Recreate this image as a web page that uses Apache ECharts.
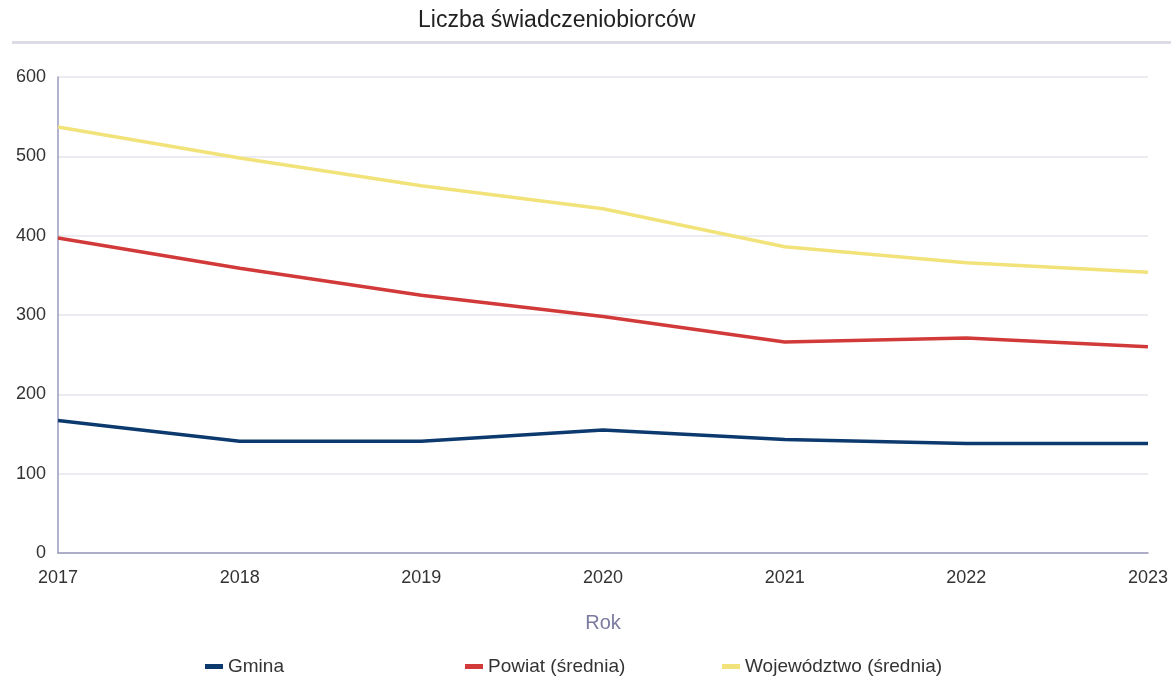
<!DOCTYPE html>
<html>
<head>
<meta charset="utf-8">
<script src="https://cdn.jsdelivr.net/npm/echarts@6/dist/echarts.min.js"></script>
<style>
  html, body { margin: 0; padding: 0; background: #fff; }
  #chart { width: 1171px; height: 676px; }
</style>
</head>
<body>
<div id="chart"></div>
<script>
// dane
const years = ['2017', '2018', '2019', '2020', '2021', '2022', '2023'];
const gmina = [167, 141, 141, 155, 143, 138, 138];
const powiat = [397, 359, 325, 298, 266, 271, 260];
const wojewodztwo = [537, 498, 463, 434, 386, 366, 354];
const yTicks = [0, 100, 200, 300, 400, 500, 600];

const chart = echarts.init(document.getElementById('chart'));

const labelFont = 'Liberation Sans, Arial, sans-serif';
const legendBase = {
  top: 652,
  icon: 'rect',
  itemWidth: 18,
  itemHeight: 5,
  textStyle: { fontFamily: labelFont, fontSize: 19, color: '#333' }
};

chart.setOption({
  animation: false,
  title: {
    text: 'Liczba świadczeniobiorców',
    left: 413,
    top: 4,
    textStyle: { fontFamily: 'Liberation Sans Narrow, Arial Narrow, Liberation Sans, sans-serif', fontSize: 23, fontWeight: 'normal', color: '#222' }
  },
  graphic: [{
    type: 'rect',
    shape: { x: 12, y: 41, width: 1159, height: 3 },
    style: { fill: '#dcdce4' }
  }],
  legend: [
    Object.assign({ left: 200, data: ['Gmina'] }, legendBase),
    Object.assign({ left: 460, data: ['Powiat (średnia)'] }, legendBase),
    Object.assign({ left: 717, data: ['Województwo (średnia)'] }, legendBase)
  ],
  grid: { left: 58, right: 23, top: 77, bottom: 123 },
  xAxis: {
    type: 'category',
    data: years,
    boundaryGap: false,
    name: 'Rok',
    nameLocation: 'middle',
    nameGap: 60,
    nameTextStyle: { fontFamily: labelFont, fontSize: 20, color: '#7b7ba0' },
    axisLine: { lineStyle: { color: '#9a9abc', width: 1.5 } },
    axisTick: { show: false },
    axisLabel: { fontFamily: labelFont, fontSize: 18, color: '#333', margin: 16 },
    splitLine: { show: false }
  },
  yAxis: {
    type: 'value',
    min: yTicks[0],
    max: yTicks[yTicks.length - 1],
    interval: 100,
    axisLine: { show: true, lineStyle: { color: '#9a9abc', width: 1.5 } },
    axisTick: { show: false },
    axisLabel: { fontFamily: labelFont, fontSize: 18, color: '#333', margin: 12 },
    splitLine: { lineStyle: { color: '#e4e4ec', width: 1.5 } }
  },
  series: [
    { name: 'Gmina', type: 'line', data: gmina, symbol: 'none', color: '#0d3a6e', lineStyle: { width: 3.5 } },
    { name: 'Powiat (średnia)', type: 'line', data: powiat, symbol: 'none', color: '#d23a3a', lineStyle: { width: 3.5 } },
    { name: 'Województwo (średnia)', type: 'line', data: wojewodztwo, symbol: 'none', color: '#f2e27a', lineStyle: { width: 3.5 } }
  ]
});
</script>
</body>
</html>
